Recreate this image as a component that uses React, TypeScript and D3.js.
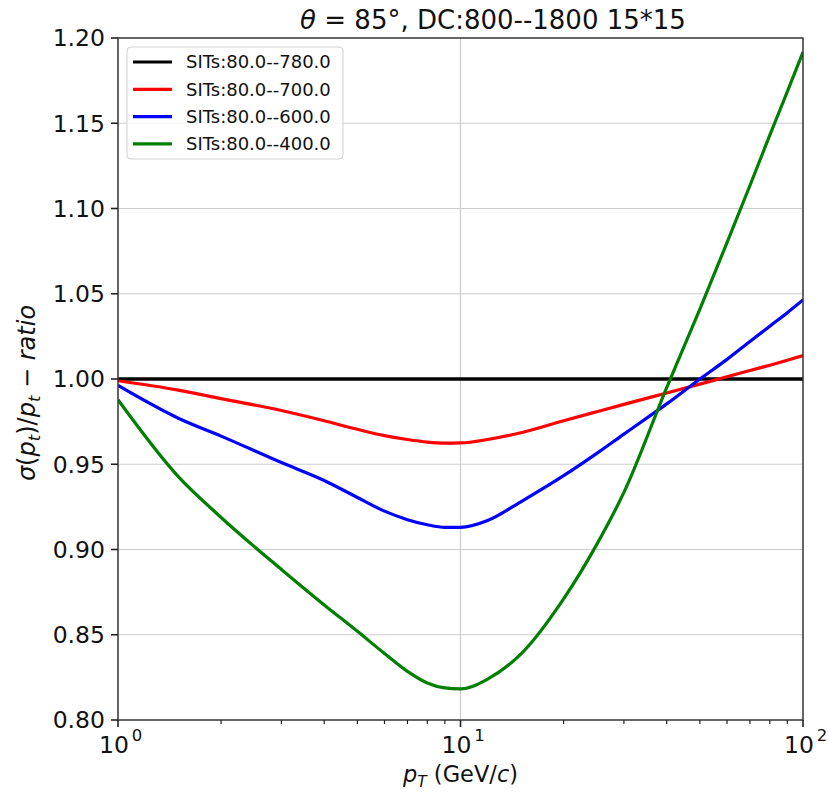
import React from "react";
import * as d3 from "d3";

const pt = [1, 1.5, 2, 3, 4, 5, 6, 7, 8, 9, 10, 12, 15, 20, 25, 30, 40, 50, 60, 70, 80, 90, 100];
const ratio780 = pt.map(() => 1.0);
const ratio700 = [0.999, 0.9935, 0.9885, 0.9815, 0.9755, 0.9705, 0.9668, 0.9645, 0.963, 0.9624, 0.9625, 0.9645, 0.9685, 0.9755, 0.9808, 0.9851, 0.9918, 0.997, 1.0013, 1.005, 1.0081, 1.011, 1.0137];
const ratio600 = [0.9962, 0.977, 0.9665, 0.951, 0.9405, 0.9305, 0.9225, 0.9175, 0.9145, 0.913, 0.913, 0.917, 0.928, 0.9433, 0.9564, 0.9677, 0.9854, 1.0, 1.0115, 1.022, 1.031, 1.0389, 1.0463];
const ratio400 = [0.9878, 0.9427, 0.9188, 0.8883, 0.8675, 0.852, 0.839, 0.8285, 0.8217, 0.8188, 0.8182, 0.824, 0.8386, 0.871, 0.903, 0.9335, 0.995, 1.041, 1.08, 1.1135, 1.143, 1.1685, 1.1917];

const seriesNames = ["SITs:80.0--780.0", "SITs:80.0--700.0", "SITs:80.0--600.0", "SITs:80.0--400.0"];
const seriesColors = ["#000000", "#ff0000", "#0000ff", "#008000"];
const seriesValues = [ratio780, ratio700, ratio600, ratio400];

const yTicks = [0.8, 0.85, 0.9, 0.95, 1.0, 1.05, 1.1, 1.15, 1.2];
const xMajor = [1, 10, 100];
const xExp = ["0", "1", "2"];
const xMinor = [2, 3, 4, 5, 6, 7, 8, 9, 20, 30, 40, 50, 60, 70, 80, 90];

const W = 828, H = 793;
const L = 118, R = 803, T = 38, B = 720;
const FONT = "DejaVu Sans";

export default function App() {
  const x = d3.scaleLog().domain([1, 100]).range([L, R]);
  const y = d3.scaleLinear().domain([0.8, 1.2]).range([B, T]);
  const line = d3
    .line<[number, number]>()
    .x((d) => x(d[0]))
    .y((d) => y(d[1]))
    .curve(d3.curveMonotoneX);

  return (
    <svg width={W} height={H} style={{ position: "absolute", left: 0, top: 0, background: "#fff" }} fontFamily={FONT}>
      <rect x={0} y={0} width={W} height={H} fill="#fff" />
      {yTicks.map((t) => (
        <line key={"gy" + t} x1={L} x2={R} y1={y(t)} y2={y(t)} stroke="#cccccc" strokeWidth={1.2} />
      ))}
      {xMajor.map((t) => (
        <line key={"gx" + t} x1={x(t)} x2={x(t)} y1={T} y2={B} stroke="#cccccc" strokeWidth={1.2} />
      ))}
      <defs>
        <clipPath id="clip">
          <rect x={L} y={T} width={R - L} height={B - T} />
        </clipPath>
      </defs>
      <g clipPath="url(#clip)">
        {seriesValues.map((vals, i) => (
          <path
            key={seriesNames[i]}
            d={line(pt.map((p, j) => [p, vals[j]]) as [number, number][]) || ""}
            fill="none"
            stroke={seriesColors[i]}
            strokeWidth={i === 0 ? 3.5 : 3.2}
            strokeLinejoin="round"
          />
        ))}
      </g>
      <rect x={L} y={T} width={R - L} height={B - T} fill="none" stroke="#333" strokeWidth={1.4} />
      {yTicks.map((t) => (
        <g key={"yt" + t}>
          <line x1={L - 7} x2={L} y1={y(t)} y2={y(t)} stroke="#222" strokeWidth={1.6} />
          <text x={L - 13} y={y(t)} dy="0.36em" textAnchor="end" fontSize={23.5} fill="#111">
            {t.toFixed(2)}
          </text>
        </g>
      ))}
      {xMajor.map((t, i) => (
        <g key={"xt" + t}>
          <line x1={x(t)} x2={x(t)} y1={B} y2={B + 7} stroke="#222" strokeWidth={1.6} />
          <text x={x(t) - 4} y={B + 33} textAnchor="middle" fontSize={23.5} fill="#111">
            10
          </text>
          <text x={x(t) + 19} y={B + 21} textAnchor="middle" fontSize={16.5} fill="#111">
            {xExp[i]}
          </text>
        </g>
      ))}
      {xMinor.map((t) => (
        <line key={"xm" + t} x1={x(t)} x2={x(t)} y1={B} y2={B + 4} stroke="#222" strokeWidth={1.2} />
      ))}
      <text x={493} y={29} textAnchor="middle" fontSize={26} fill="#111">
        <tspan fontStyle="italic">θ</tspan>
        <tspan> = 85°, DC:800--1800 15*15</tspan>
      </text>
      <text x={(L + R) / 2} y={782} textAnchor="middle" fontSize={22.5} fill="#111">
        <tspan fontStyle="italic">p</tspan>
        <tspan fontStyle="italic" fontSize={15.5} dy={5}>T</tspan>
        <tspan dy={-5}> (GeV/</tspan>
        <tspan fontStyle="italic">c</tspan>
        <tspan>)</tspan>
      </text>
      <text transform={`translate(35,393) rotate(-90)`} textAnchor="middle" fontSize={24} fill="#111">
        <tspan fontStyle="italic">σ</tspan>
        <tspan>(</tspan>
        <tspan fontStyle="italic">p</tspan>
        <tspan fontStyle="italic" fontSize={16.5} dy={5}>t</tspan>
        <tspan dy={-5}>)/</tspan>
        <tspan fontStyle="italic">p</tspan>
        <tspan fontStyle="italic" fontSize={16.5} dy={5}>t</tspan>
        <tspan dy={-5}> − </tspan>
        <tspan fontStyle="italic">ratio</tspan>
      </text>
      <g>
        <rect x={127} y={47} width={216} height={112} rx={4} fill="#fff" fillOpacity={0.85} stroke="#d0d0d0" strokeWidth={1} />
        {seriesNames.map((name, i) => (
          <g key={"lg" + name}>
            <line x1={133} x2={172} y1={62 + i * 27.3} y2={62 + i * 27.3} stroke={seriesColors[i]} strokeWidth={3.2} />
            <text x={186} y={62 + i * 27.3} dy="0.36em" fontSize={18} fill="#111">
              {name}
            </text>
          </g>
        ))}
      </g>
    </svg>
  );
}
